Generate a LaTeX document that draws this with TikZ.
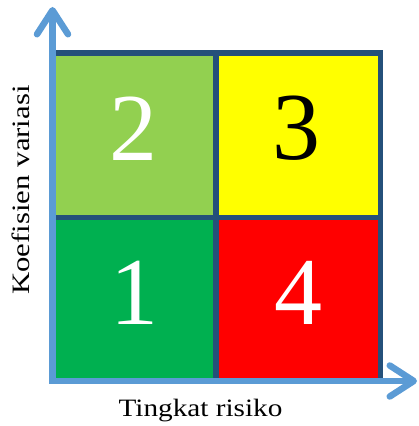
\documentclass[tikz,border=0pt]{standalone}
\usepackage{graphicx}
\usepackage{fontspec}
\setmainfont{Liberation Serif}
\usetikzlibrary{arrows.meta}
\definecolor{axisblue}{HTML}{5B9BD5}
\definecolor{gridline}{HTML}{24507A}
\definecolor{lgreen}{HTML}{92D050}
\definecolor{dgreen}{HTML}{00B050}
\definecolor{cyellow}{HTML}{FFFF00}
\definecolor{cred}{HTML}{FF0000}
\tikzset{
  gridstroke/.style={draw=gridline, line width=5.5pt},
  axisline/.style={draw=axisblue, line width=6.5pt,
    {Straight Barb[length=24pt,width=31pt,round]}-{Straight Barb[length=24pt,width=31pt,round]}},
  digit/.style={inner sep=0pt, font=\fontsize{96}{96}\selectfont},
  axlabel/.style={inner sep=0pt, anchor=base, font=\fontsize{25}{26}\selectfont},
}
\begin{document}
\begin{tikzpicture}[x=1pt,y=1pt]
\useasboundingbox (0,0) rectangle (419,426);
\coordinate (bl) at (52.5,45);
\coordinate (tr) at (380.5,373);
\coordinate (mid) at (216,208.5);
\coordinate (ytip) at (52.5,419);
\coordinate (xtip) at (417,45);
% cells
\fill[lgreen] (52.5,208.5) rectangle (216,373);
\fill[cyellow] (216,208.5) rectangle (380.5,373);
\fill[dgreen] (bl) rectangle (mid);
\fill[cred] (216,45) rectangle (380.5,208.5);
% grid lines
\draw[gridstroke] (bl) rectangle (tr);
\draw[gridstroke] (216,45) -- (216,373);
\draw[gridstroke] (52.5,208.5) -- (380.5,208.5);
% digits
\node[digit, text=white] (n2) at (133.5,297.5) {2};
\node[digit, text=black] (n3) at (296.5,297.5) {3};
\node[digit, text=white] (n1) at (134.5,133.5) {1};
\node[digit, text=white] (n4) at (298,133.5) {4};
% axes
\draw[axisline, line join=miter] (ytip) -- (bl) -- (xtip);
% labels
\node[axlabel] (xl) at (200.5,9.3) {\scalebox{1.17}[1]{Tingkat risiko}};
\node[axlabel, rotate=90] (yl) at (29,236) {\scalebox{1.23}[1]{Koefisien variasi}};
\end{tikzpicture}
\end{document}
